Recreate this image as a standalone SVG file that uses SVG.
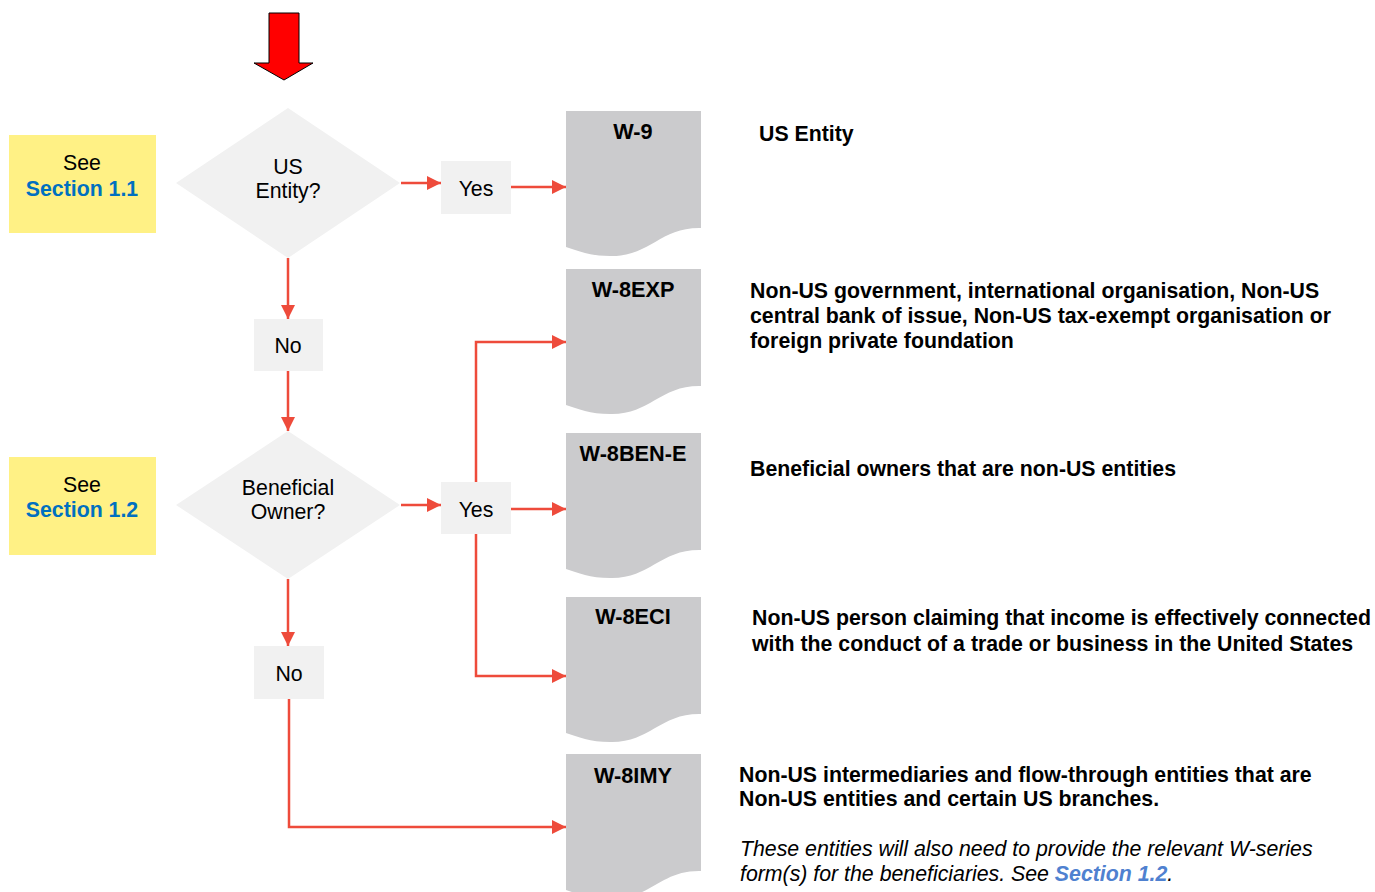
<svg xmlns="http://www.w3.org/2000/svg" width="1375" height="892" viewBox="0 0 1375 892">
<defs>
<style>
.t{font-family:"Liberation Sans",Arial,sans-serif;fill:#000}
.n{font-size:21.3px;text-anchor:middle}
.lnk{font-weight:bold;fill:#0070C0}
.doc{fill:#CBCBCD}
.dl{font-size:21.7px;font-weight:bold;text-anchor:middle}
.desc{font-size:21.3px;font-weight:bold}
.it{font-size:21.3px;font-style:italic}
.c{fill:none;stroke:#EE4B3B;stroke-width:2.5}
.box{fill:#F1F1F1}
.yel{fill:#FFF185}
</style>
<marker id="ah" markerWidth="14" markerHeight="14" refX="14" refY="7" orient="auto" markerUnits="userSpaceOnUse">
<path d="M0,0 L14,7 L0,14 Z" fill="#EE4B3B"/>
</marker>
</defs>
<rect width="1375" height="892" fill="#fff"/>

<g id="start-arrow">
<path d="M269,13 H299 V63 H313 L284,80 L254,63 H269 Z" fill="#FF0000" stroke="#000" stroke-width="1"/>
</g>

<g id="see-1-1">
<rect class="yel" x="9" y="135" width="147" height="98"/>
<text class="t n" x="82" y="170">See</text>
<text class="t n lnk" x="82" y="196">Section 1.1</text>
</g>

<g id="see-1-2">
<rect class="yel" x="9" y="457" width="147" height="98"/>
<text class="t n" x="82" y="492">See</text>
<text class="t n lnk" x="82" y="517">Section 1.2</text>
</g>

<g id="q-us-entity">
<path class="box" d="M288,108 L400,183 L288,258 L176,183 Z"/>
<text class="t n" x="288" y="174">US</text>
<text class="t n" x="288" y="198">Entity?</text>
</g>

<g id="q-beneficial-owner">
<path class="box" d="M288,431 L400,505 L288,579 L176,505 Z"/>
<text class="t n" x="288" y="495">Beneficial</text>
<text class="t n" x="288" y="519">Owner?</text>
</g>

<g id="yes-1">
<rect class="box" x="441" y="161" width="70" height="53"/>
<text class="t n" x="476" y="196">Yes</text>
</g>
<g id="yes-2">
<rect class="box" x="441" y="482" width="70" height="52"/>
<text class="t n" x="476" y="517">Yes</text>
</g>
<g id="no-1">
<rect class="box" x="254" y="319" width="69" height="52"/>
<text class="t n" x="288" y="353">No</text>
</g>
<g id="no-2">
<rect class="box" x="254" y="646" width="70" height="53"/>
<text class="t n" x="289" y="681">No</text>
</g>

<g id="w9">
<path class="doc" d="M566,111 H701 V228 C660,227 650,257 610,256 C590,256 578,251 566,247 Z"/>
<text class="t dl" x="633" y="139">W-9</text>
</g>
<g id="w8exp">
<path class="doc" d="M566,269 H701 V386 C660,385 650,415 610,414 C590,414 578,409 566,405 Z"/>
<text class="t dl" x="633" y="297">W-8EXP</text>
</g>
<g id="w8bene">
<path class="doc" d="M566,433 H701 V550 C660,549 650,579 610,578 C590,578 578,573 566,569 Z"/>
<text class="t dl" x="633" y="461">W-8BEN-E</text>
</g>
<g id="w8eci">
<path class="doc" d="M566,597 H701 V714 C660,713 650,743 610,742 C590,742 578,737 566,733 Z"/>
<text class="t dl" x="633" y="624">W-8ECI</text>
</g>
<g id="w8imy">
<path class="doc" d="M566,754 H701 V871 C660,870 650,900 610,899 C590,899 578,894 566,890 Z"/>
<text class="t dl" x="633" y="783">W-8IMY</text>
</g>

<g id="connectors">
<path class="c" d="M401,183 H441" marker-end="url(#ah)"/>
<path class="c" d="M511,187 H566" marker-end="url(#ah)"/>
<path class="c" d="M288,258 V319" marker-end="url(#ah)"/>
<path class="c" d="M288,371 V431" marker-end="url(#ah)"/>
<path class="c" d="M401,505 H441" marker-end="url(#ah)"/>
<path class="c" d="M511,509 H566" marker-end="url(#ah)"/>
<path class="c" d="M476,482 V342 H566" marker-end="url(#ah)"/>
<path class="c" d="M476,534 V676 H566" marker-end="url(#ah)"/>
<path class="c" d="M288,579 V646" marker-end="url(#ah)"/>
<path class="c" d="M289,699 V827 H566" marker-end="url(#ah)"/>
</g>

<g id="descriptions">
<text class="t desc" x="759" y="141">US Entity</text>
<text class="t desc" x="750" y="298">Non-US government, international organisation, Non-US</text>
<text class="t desc" x="750" y="323">central bank of issue, Non-US tax-exempt organisation or</text>
<text class="t desc" x="750" y="348">foreign private foundation</text>
<text class="t desc" x="750" y="476">Beneficial owners that are non-US entities</text>
<text class="t desc" x="752" y="625">Non-US person claiming that income is effectively connected</text>
<text class="t desc" x="752" y="651">with the conduct of a trade or business in the United States</text>
<text class="t desc" x="739" y="782">Non-US intermediaries and flow-through entities that are</text>
<text class="t desc" x="739" y="806">Non-US entities and certain US branches.</text>
<text class="t it" x="740" y="856">These entities will also need to provide the relevant W-series</text>
<text class="t it" x="740" y="881">form(s) for the beneficiaries. See <tspan font-weight="bold" fill="#4F81D0">Section 1.2</tspan>.</text>
</g>
</svg>
